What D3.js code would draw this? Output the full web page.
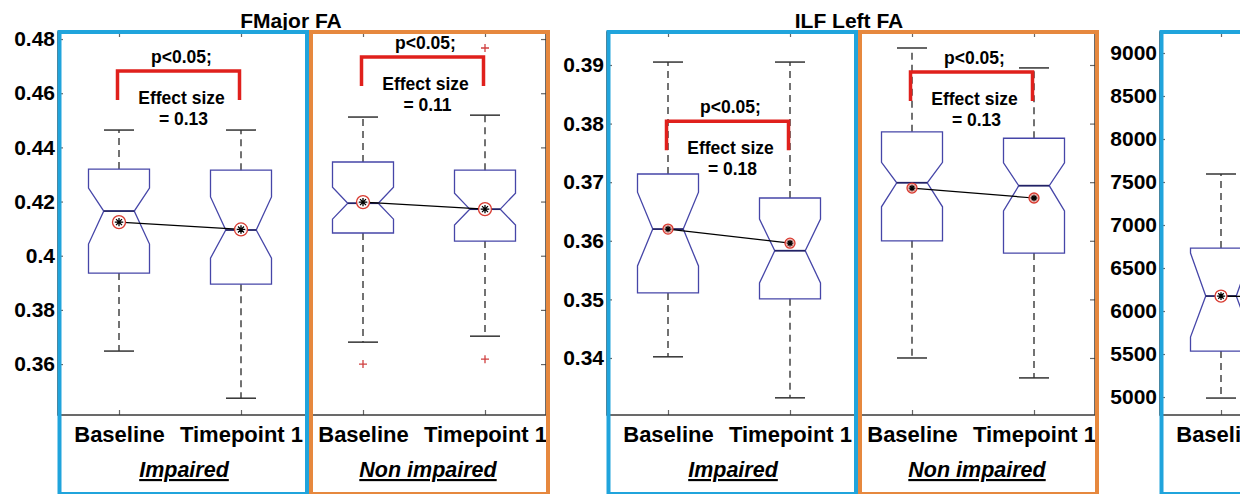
<!DOCTYPE html>
<html>
<head>
<meta charset="utf-8">
<script src="https://cdn.jsdelivr.net/npm/d3@7"></script>
<style>
body { margin: 0; background: #fff; }
text { font-family: "Liberation Sans", Arial, sans-serif; font-weight: bold; }
</style>
</head>
<body>
<div class="canvas"></div>
<script>
// categories
const categories = ["Baseline", "Timepoint 1", "Baseline", "Timepoint 1"];
const groups = ["Impaired", "Non impaired"];

// box stats: [lower whisker, q1, notch low, median, notch high, q3, upper whisker]
const fmajorBoxes = [
    [0.3648, 0.3936, 0.4043, 0.4165, 0.4250, 0.4320, 0.4464],
    [0.3474, 0.3895, 0.3991, 0.4095, 0.4217, 0.4316, 0.4464],
    [0.3681, 0.4084, 0.4135, 0.4194, 0.4253, 0.4346, 0.4512],
    [0.3703, 0.4054, 0.4113, 0.4172, 0.4231, 0.4316, 0.4519]
];
const fmajorMeans = [0.4124, 0.4097, 0.4198, 0.4172];
const fmajorOutliers = [[], [], [0.3600], [0.4767, 0.3618]];
const fmajorBrackets = [0.4682, 0.4734];
const fmajorEffects = ["= 0.13", "= 0.11"];
const fmajorTicks = [0.36, 0.38, 0.40, 0.42, 0.44, 0.46, 0.48];

const ilfBoxes = [
    [0.3402, 0.3511, 0.3557, 0.3620, 0.3683, 0.3714, 0.3905],
    [0.3332, 0.3501, 0.3528, 0.3583, 0.3637, 0.3673, 0.3905],
    [0.3400, 0.3600, 0.3658, 0.3699, 0.3734, 0.3786, 0.3929],
    [0.3366, 0.3579, 0.3651, 0.3694, 0.3733, 0.3775, 0.3895]
];
const ilfMeans = [0.3620, 0.3596, 0.3690, 0.3673];
const ilfOutliers = [[], [], [], []];
const ilfBrackets = [0.3804, 0.3888];
const ilfEffects = ["= 0.18", "= 0.13"];
const ilfTicks = [0.34, 0.35, 0.36, 0.37, 0.38, 0.39];

const volBoxes = [
    [4988, 5534, 5697, 6174, 6674, 6732, 7593],
    [5000, 5500, 5700, 6150, 6600, 6700, 7500]
];
const volMeans = [6174, 6150];
const volOutliers = [[], []];
const volTicks = [5000, 5500, 6000, 6500, 7000, 7500, 8000, 8500, 9000];

// main svg
const width = 1240, height = 494;
const svg = d3.select('.canvas').append('svg')
    .attr('width', width)
    .attr('height', height)
    .style('display', 'block');
svg.append('rect').attr('width', width).attr('height', height).attr('fill', '#fff');

const plotTop = 32, plotBottom = 415;

const panels = [
    {title: "FMajor FA", titleX: 291, left: 58, domain: [0.3412, 0.4826], ticks: fmajorTicks,
     fmt: d3.format("~g"), boxes: fmajorBoxes, means: fmajorMeans, outliers: fmajorOutliers,
     brackets: fmajorBrackets, effects: fmajorEffects, r: 6.5, groupLabels: true},
    {title: "ILF Left FA", titleX: 849, left: 607, domain: [0.33027, 0.39563], ticks: ilfTicks,
     fmt: d3.format("~g"), boxes: ilfBoxes, means: ilfMeans, outliers: ilfOutliers,
     brackets: ilfBrackets, effects: ilfEffects, r: 5, groupLabels: true},
    {title: "", left: 1160, domain: [4791, 9244], ticks: volTicks,
     fmt: d3.format("d"), boxes: volBoxes, means: volMeans, outliers: volOutliers,
     brackets: [], effects: [], r: 6, groupLabels: false}
];

panels.forEach(drawPanel);

function drawPanel(p) {
    const x = d3.scaleLinear().domain([0.5, 4.5]).range([p.left, p.left + 488]);
    const y = d3.scaleLinear().domain(p.domain).range([plotBottom, plotTop]);
    const g = svg.append('g');

    // axes
    const yAxisGroup = g.append('g').attr('transform', `translate(${x(0.5)},0)`)
        .call(d3.axisLeft(y).tickValues(p.ticks).tickSize(-5).tickPadding(3).tickFormat(p.fmt));
    const yRightGroup = g.append('g').attr('transform', `translate(${x(4.5)},0)`)
        .call(d3.axisRight(y).tickValues(p.ticks).tickSize(-5).tickFormat(''));
    const xTopGroup = g.append('g').attr('transform', `translate(0,${plotTop})`)
        .call(d3.axisTop(x).tickValues([1, 2, 3, 4]).tickSize(-5).tickFormat(''));
    const xAxisGroup = g.append('g').attr('transform', `translate(0,${plotBottom})`)
        .call(d3.axisBottom(x).tickValues([1, 2, 3, 4]).tickSize(-5).tickPadding(11)
            .tickFormat((d, i) => categories[i]));

    [yAxisGroup, yRightGroup, xTopGroup, xAxisGroup].forEach(a => {
        a.select('.domain').remove();
        a.selectAll('.tick line').attr('stroke', '#666').attr('stroke-width', 1.2);
        a.selectAll('text').attr('fill', '#000').style('font-family', '"Liberation Sans", Arial, sans-serif');
    });
    yAxisGroup.selectAll('text').attr('font-size', 21);
    xAxisGroup.selectAll('text').attr('font-size', 22);

    // frame
    g.append('rect')
        .attr('x', x(0.5)).attr('y', plotTop)
        .attr('width', x(4.5) - x(0.5)).attr('height', plotBottom - plotTop)
        .attr('fill', 'none').attr('stroke', '#3a3a3a').attr('stroke-width', 1.5);

    // title
    if (p.title) {
        g.append('text').attr('x', p.titleX).attr('y', 28)
            .attr('text-anchor', 'middle').attr('font-size', 21).text(p.title);
    }

    // group labels
    if (p.groupLabels) {
        groups.forEach((grp, i) => {
            g.append('text')
                .attr('x', x(1.5 + 2 * i) + 4).attr('y', 477)
                .attr('text-anchor', 'middle').attr('font-size', 21.5)
                .attr('font-style', 'italic').attr('text-decoration', 'underline')
                .text(grp);
        });
    }

    // boxes
    const hw = x(1.25) - x(1), nw = hw / 2;
    p.boxes.forEach((b, i) => {
        const [wLo, q1, nLo, med, nHi, q3, wHi] = b;
        const cx = x(i + 1);
        const bg = g.append('g');
        // whiskers
        bg.selectAll('.whisker').data([[q3, wHi], [q1, wLo]]).enter().append('line')
            .attr('x1', cx).attr('x2', cx)
            .attr('y1', d => y(d[0])).attr('y2', d => y(d[1]))
            .attr('stroke', '#444').attr('stroke-width', 1.5).attr('stroke-dasharray', '7,5');
        bg.selectAll('.cap').data([wHi, wLo]).enter().append('line')
            .attr('x1', cx - 15).attr('x2', cx + 15)
            .attr('y1', d => y(d)).attr('y2', d => y(d))
            .attr('stroke', '#333').attr('stroke-width', 1.5);
        // notched box
        const pts = [
            [cx - hw, y(q1)], [cx - hw, y(nLo)], [cx - nw, y(med)], [cx - hw, y(nHi)], [cx - hw, y(q3)],
            [cx + hw, y(q3)], [cx + hw, y(nHi)], [cx + nw, y(med)], [cx + hw, y(nLo)], [cx + hw, y(q1)]
        ];
        bg.append('path')
            .attr('d', d3.line()(pts) + 'Z')
            .attr('fill', 'none').attr('stroke', '#4646a8').attr('stroke-width', 1.3);
        bg.append('line')
            .attr('x1', cx - nw).attr('x2', cx + nw)
            .attr('y1', y(med)).attr('y2', y(med))
            .attr('stroke', '#222266').attr('stroke-width', 1.8);
        // outliers
        p.outliers[i].forEach(o => {
            bg.append('path')
                .attr('d', `M${cx - 4},${y(o)}H${cx + 4}M${cx},${y(o) - 4}V${y(o) + 4}`)
                .attr('stroke', '#d04040').attr('stroke-width', 1.3);
        });
    });

    // mean lines
    for (let k = 0; k + 1 < p.means.length; k += 2) {
        g.append('line')
            .attr('x1', x(k + 1)).attr('x2', x(k + 2))
            .attr('y1', y(p.means[k])).attr('y2', y(p.means[k + 1]))
            .attr('stroke', '#000').attr('stroke-width', 1.2);
    }
    // mean markers
    p.means.forEach((m, i) => {
        const cx = x(i + 1), cy = y(m), s = p.r * 0.65;
        g.append('circle').attr('cx', cx).attr('cy', cy).attr('r', p.r)
            .attr('fill', p.r < 6 ? '#f3b6b0' : '#fff').attr('fill-opacity', 0.9)
            .attr('stroke', '#d83a30').attr('stroke-width', 1.3);
        const d = s * 0.707;
        g.append('path')
            .attr('d', `M${cx - s},${cy}H${cx + s}M${cx},${cy - s}V${cy + s}` +
                `M${cx - d},${cy - d}L${cx + d},${cy + d}M${cx - d},${cy + d}L${cx + d},${cy - d}`)
            .attr('stroke', '#000').attr('stroke-width', 1.3);
    });

    // significance brackets
    p.brackets.forEach((top, k) => {
        const xa = x(2 * k + 1) - 1.5, xb = x(2 * k + 2) - 1.5, yt = y(top);
        g.append('path')
            .attr('d', `M${xa},${yt + 29}V${yt}H${xb}V${yt + 29}`)
            .attr('fill', 'none').attr('stroke', '#e0201c').attr('stroke-width', 3.5);
        const mid = (xa + xb) / 2;
        g.append('text').attr('x', mid + 3).attr('y', yt - 8)
            .attr('text-anchor', 'middle').attr('font-size', 17.5).text('p<0.05;');
        g.append('text').attr('x', mid + 3).attr('y', yt + 33)
            .attr('text-anchor', 'middle').attr('font-size', 17.5).text('Effect size');
        g.append('text').attr('x', mid + 5).attr('y', yt + 54)
            .attr('text-anchor', 'middle').attr('font-size', 17.5).text(p.effects[k]);
    });

    // group frames
    g.append('rect')
        .attr('x', x(0.5) + 1.5).attr('y', 32)
        .attr('width', x(2.5) + 5 - x(0.5) - 1.5).attr('height', 462)
        .attr('fill', 'none').attr('stroke', '#20a4dc').attr('stroke-width', 4);
    g.append('rect')
        .attr('x', x(2.5) + 9).attr('y', 32)
        .attr('width', x(4.5) + 2 - x(2.5) - 9).attr('height', 462)
        .attr('fill', 'none').attr('stroke', '#e6883e').attr('stroke-width', 4);
}
</script>
</body>
</html>
